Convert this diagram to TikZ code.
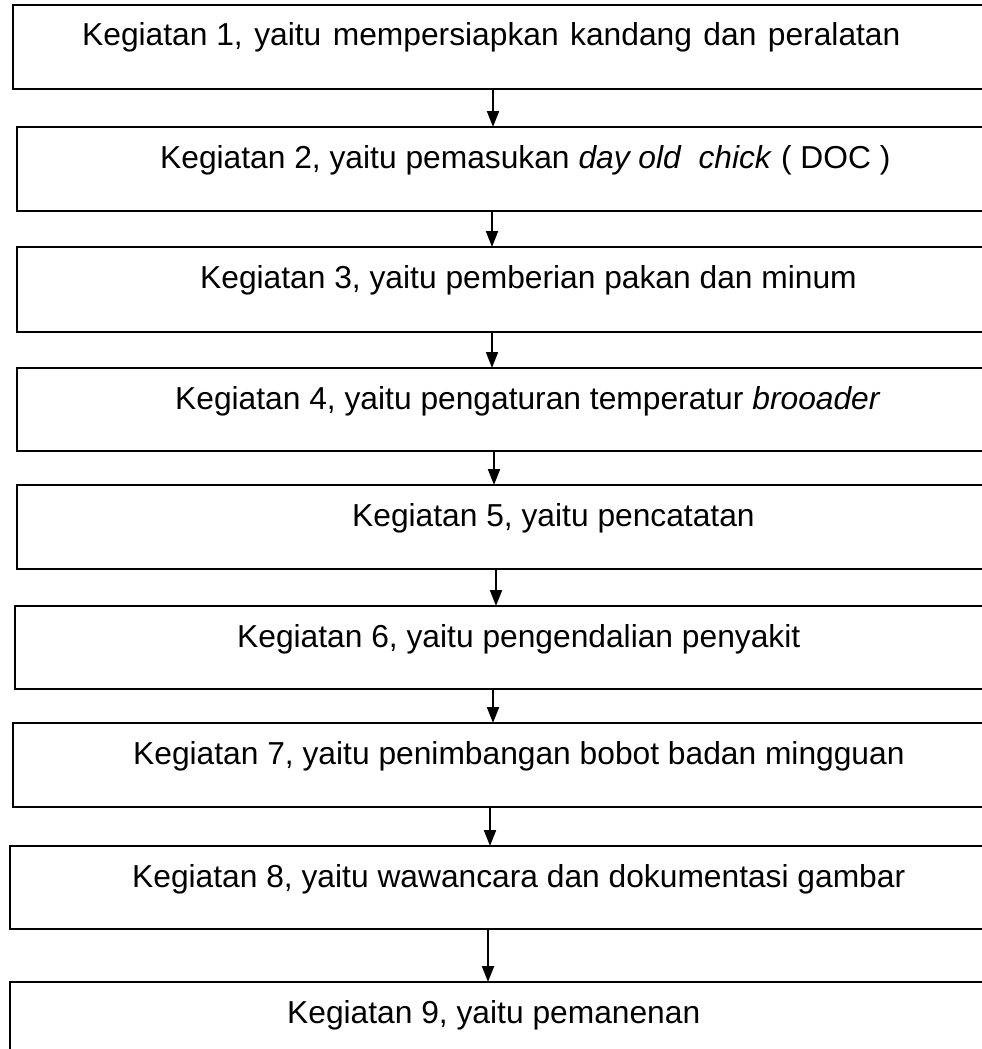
\documentclass[tikz,border=0pt]{standalone}
\usepackage{fontspec}
\setmainfont{Liberation Sans}
\usetikzlibrary{arrows.meta}
\newcommand{\wsp}{\hspace{11.5pt}}
\begin{document}
\begin{tikzpicture}[x=1pt,y=-1pt,
  box/.style={draw=black, line width=2.6pt, anchor=north west, inner sep=0pt, outer sep=0pt, rectangle},
  lbl/.style={anchor=base west, inner sep=0pt, font=\fontsize{31.75}{36}\selectfont},
  arr/.style={line width=2pt, -{Triangle[width=12pt,length=16pt]}}]
\clip (0,0) rectangle (982,1049);
\useasboundingbox (0,0) rectangle (982,1049);
% boxes: left, top, bottom
\node[box, minimum width=1000-13, minimum height=84] (b1) at (13,5) {};
\node[box, minimum width=1000-17, minimum height=84] (b2) at (17,127) {};
\node[box, minimum width=1000-17, minimum height=85] (b3) at (17,247) {};
\node[box, minimum width=1000-17, minimum height=83] (b4) at (17,368) {};
\node[box, minimum width=1000-17, minimum height=84] (b5) at (17,485) {};
\node[box, minimum width=1000-15, minimum height=83] (b6) at (15,606) {};
\node[box, minimum width=1000-13, minimum height=84] (b7) at (13,723) {};
\node[box, minimum width=1000-10, minimum height=83] (b8) at (10,846) {};
\node[box, minimum width=1000-10, minimum height=140] (b9) at (10,982) {};
% texts
\node[lbl] (t1) at (82,46) {Kegiatan 1,\wsp yaitu\wsp mempersiapkan\wsp kandang\wsp dan\wsp peralatan};
\node[lbl] (t2) at (160,168) {Kegiatan 2, yaitu pemasukan \textit{day old\ \ chick} ( DOC )};
\node[lbl] (t3) at (200,288) {Kegiatan 3, yaitu pemberian pakan dan minum};
\node[lbl] (t4) at (175,409) {Kegiatan 4, yaitu pengaturan temperatur \textit{brooader}};
\node[lbl] (t5) at (352,526) {Kegiatan 5, yaitu pencatatan};
\node[lbl] (t6) at (237,647) {Kegiatan 6, yaitu pengendalian penyakit};
\node[lbl] (t7) at (133,764) {Kegiatan 7, yaitu penimbangan bobot badan mingguan};
\node[lbl] (t8) at (132,887) {Kegiatan 8, yaitu wawancara dan dokumentasi gambar};
\node[lbl] (t9) at (287,1023) {Kegiatan 9, yaitu pemanenan};
% arrow columns
\coordinate (c1) at (493,0);
\coordinate (c2) at (492,0);
\coordinate (c3) at (492,0);
\coordinate (c4) at (494,0);
\coordinate (c5) at (496,0);
\coordinate (c6) at (493,0);
\coordinate (c7) at (490,0);
\coordinate (c8) at (488,0);
\draw[arr] (b1.south -| c1) -- (b2.north -| c1);
\draw[arr] (b2.south -| c2) -- (b3.north -| c2);
\draw[arr] (b3.south -| c3) -- (b4.north -| c3);
\draw[arr] (b4.south -| c4) -- (b5.north -| c4);
\draw[arr] (b5.south -| c5) -- (b6.north -| c5);
\draw[arr] (b6.south -| c6) -- (b7.north -| c6);
\draw[arr] (b7.south -| c7) -- (b8.north -| c7);
\draw[arr] (b8.south -| c8) -- (b9.north -| c8);
\end{tikzpicture}
\end{document}
